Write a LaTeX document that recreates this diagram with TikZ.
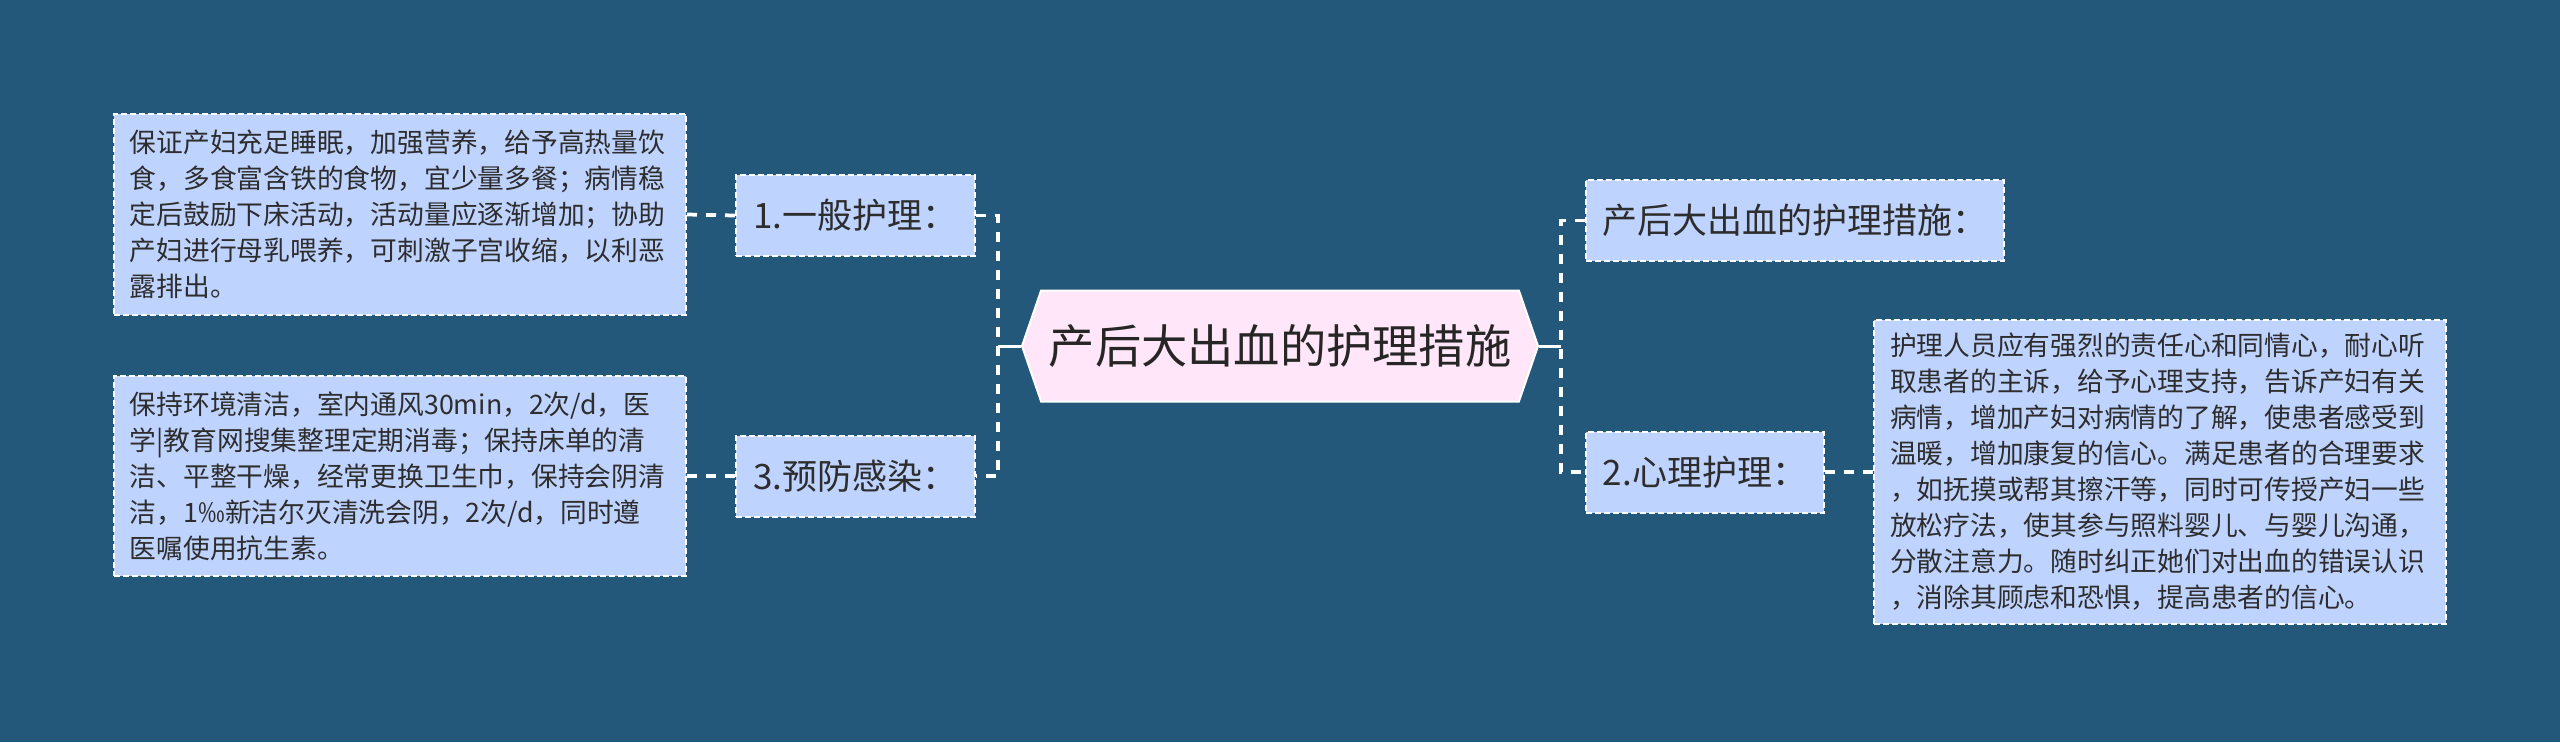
\documentclass[tikz,border=0pt]{standalone}
\usepackage{fontspec}
\setmainfont{Noto Sans CJK SC}
\usepackage{xcolor}
\usepackage{tikz}
\usetikzlibrary{positioning,shapes.symbols}
\definecolor{bgblue}{RGB}{36,88,122}
\definecolor{leafblue}{RGB}{191,211,255}
\definecolor{rootpink}{RGB}{255,230,248}
\definecolor{inkgray}{RGB}{45,45,45}
\tikzset{
  leafbox/.style={draw=white, line width=0.8pt, dash pattern=on 2.4pt off 1.2pt, fill=leafblue, text=inkgray, inner sep=0pt},
  txtbox/.style={leafbox, text width=216pt, minimum width=228.8pt, align=left, font=\fontsize{10.7}{14.4}\selectfont},
  tagbox/.style={leafbox, minimum height=32.4pt, font=\fontsize{14}{16}\selectfont},
  dashlink/.style={white, line width=1.5pt, dash pattern=on 4pt off 3.6pt},
  solidlink/.style={white, line width=1.2pt}
}
\begin{document}
\begin{tikzpicture}[x=0.4pt,y=-0.4pt]
\fill[bgblue] (0,0) rectangle (2560,742);
\useasboundingbox (0,0) rectangle (2560,742);
\node[shape=signal, signal to=west and east, signal pointer angle=142, draw=white, line width=0.8pt, fill=rootpink, text=black!85, minimum width=206.4pt, minimum height=44.4pt, inner sep=0pt, font=\fontsize{18.5}{20}\selectfont] (root) at (1280,346) {产后大出血的护理措施};
\coordinate (lsp) at (998,346);
\coordinate (rsp) at (1561,346);
\node[tagbox, minimum width=95.6pt] (gen) at (855.5,215.5) {1.一般护理：};
\node[tagbox, minimum width=95.6pt] (inf) at (855.5,476) {3.预防感染：};
\node[tagbox, minimum width=167.2pt] (sum) at (1795,220.5) {产后大出血的护理措施：};
\node[tagbox, minimum width=95.2pt] (psy) at (1705,472) {2.心理护理：};
\node[txtbox, minimum height=80.4pt] (gentxt) at (400,214.5) {保证产妇充足睡眠，加强营养，给予高热量饮\\食，多食富含铁的食物，宜少量多餐；病情稳\\定后鼓励下床活动，活动量应逐渐增加；协助\\产妇进行母乳喂养，可刺激子宫收缩，以利恶\\露排出。};
\node[txtbox, minimum height=80pt] (inftxt) at (400,476) {保持环境清洁，室内通风30min，2次/d，医\\学|教育网搜集整理定期消毒；保持床单的清\\洁、平整干燥，经常更换卫生巾，保持会阴清\\洁，1‰新洁尔灭清洗会阴，2次/d，同时遵\\医嘱使用抗生素。};
\node[txtbox, minimum height=121.6pt] (psytxt) at (2160,472) {护理人员应有强烈的责任心和同情心，耐心听\\取患者的主诉，给予心理支持，告诉产妇有关\\病情，增加产妇对病情的了解，使患者感受到\\温暖，增加康复的信心。满足患者的合理要求\\，如抚摸或帮其擦汗等，同时可传授产妇一些\\放松疗法，使其参与照料婴儿、与婴儿沟通，\\分散注意力。随时纠正她们对出血的错误认识\\，消除其顾虑和恐惧，提高患者的信心。};
% left branch
\draw[solidlink] (root.west) -- (lsp);
\draw[dashlink] (gen.east) -| (lsp |- inf.east) -- (inf.east);
\draw[dashlink] (gentxt.east) -- (gen.west);
\draw[dashlink] (inftxt.east) -- (inf.west);
% right branch
\draw[solidlink] (root.east) -- (rsp);
\draw[dashlink] (sum.west) -| (rsp |- psy.west) -- (psy.west);
\draw[dashlink] (psy.east) -- (psytxt.west);
\end{tikzpicture}
\end{document}
